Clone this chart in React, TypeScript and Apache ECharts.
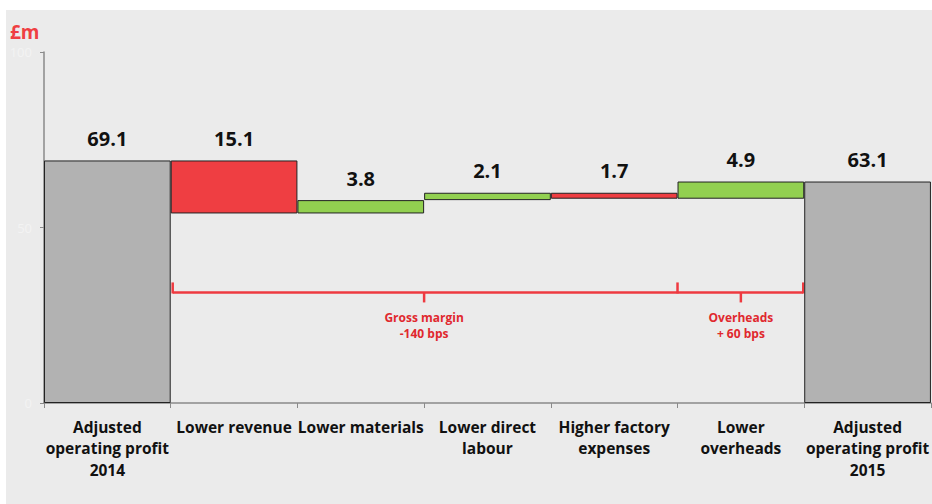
import React, { useEffect, useRef } from "react";
import * as echarts from "echarts";

const categories = [
  "Adjusted\noperating profit\n2014",
  "Lower revenue",
  "Lower materials",
  "Lower direct\nlabour",
  "Higher factory\nexpenses",
  "Lower\noverheads",
  "Adjusted\noperating profit\n2015",
];
const startValue = 69.1;
const deltas = [-15.1, 3.8, 2.1, -1.7, 4.9];
const endValue = 63.1;
// bracket boundaries (after category index), middle pointer (category position), texts
const brackets = [
  { from: 0, to: 4, mid: 2.5, lines: ["Gross margin", "-140 bps"] },
  { from: 4, to: 5, mid: 5, lines: ["Overheads", "+ 60 bps"] },
];

const GRAY = "#b2b2b2";
const RED = "#ef3e42";
const GREEN = "#92d050";
const BRACKET = "#ee3a40";
const FONT = "'Open Sans'";

export default function App() {
  const ref = useRef<HTMLDivElement>(null);
  useEffect(() => {
    if (!ref.current) return;
    const chart = echarts.init(ref.current, null, { renderer: "svg" });

    const base: number[] = [];
    const size: number[] = [];
    const colors: string[] = [];
    base.push(0);
    size.push(startValue);
    colors.push(GRAY);
    let run = startValue;
    deltas.forEach((d) => {
      const next = run + d;
      base.push(Math.min(run, next));
      size.push(Math.abs(d));
      colors.push(d < 0 ? RED : GREEN);
      run = next;
    });
    base.push(0);
    size.push(endValue);
    colors.push(GRAY);

    const title = {
      type: "text",
      left: 4,
      top: 12,
      style: { text: "£m", fill: RED, font: `bold 19px ${FONT}` },
    };

    const option: any = {
      animation: false,
      backgroundColor: "#ebebeb",
      grid: { left: 38, top: 42, width: 890, height: 351, containLabel: false },
      xAxis: {
        type: "category",
        data: categories,
        axisLine: { lineStyle: { color: "#8a8a8a", width: 1.5 } },
        axisTick: { show: true, length: 5, lineStyle: { color: "#8a8a8a" } },
        axisLabel: {
          interval: 0,
          hideOverlap: false,
          color: "#111",
          fontFamily: FONT,
          fontWeight: "bold",
          fontSize: 15.5,
          lineHeight: 21.5,
          margin: 13,
        },
      },
      yAxis: {
        type: "value",
        min: 0,
        max: 100,
        interval: 50,
        splitLine: { show: false },
        axisLine: { show: true, lineStyle: { color: "#8a8a8a", width: 1.5 } },
        axisTick: { show: true, length: 4, lineStyle: { color: "#8a8a8a" } },
        axisLabel: { color: "#f3f3f3", fontSize: 13, fontFamily: FONT, margin: 12 },
      },
      series: [
        {
          type: "bar",
          stack: "w",
          data: base,
          itemStyle: { color: "transparent", borderWidth: 0 },
          barCategoryGap: 0,
          silent: true,
        },
        {
          type: "bar",
          stack: "w",
          barCategoryGap: 0,
          data: size.map((v, i) => ({
            value: v,
            itemStyle: { color: colors[i], borderColor: "#222", borderWidth: 1 },
          })),
          label: {
            show: true,
            position: "top",
            distance: 12,
            color: "#111",
            fontFamily: FONT,
            fontWeight: "bold",
            fontSize: 20,
            formatter: (p: any) => Number(p.value).toFixed(1),
          },
        },
      ],
      graphic: [title],
    };
    chart.setOption(option);

    const xAt = (i: number) => chart.convertToPixel({ xAxisIndex: 0 }, i) as number;
    const pos = (p: number) => {
      const f = Math.floor(p);
      return f === p ? xAt(p) : (xAt(f) + xAt(f + 1)) / 2;
    };
    const level = chart.convertToPixel({ yAxisIndex: 0 }, 31.5) as number;
    const els: any[] = [];
    const ls = { stroke: BRACKET, lineWidth: 2.5 };
    const x0 = pos(brackets[0].from + 0.5) + 2;
    const xEnd = pos(brackets[brackets.length - 1].to + 0.5) - 1;
    els.push({ type: "line", shape: { x1: x0, y1: level, x2: xEnd, y2: level }, style: ls });
    const ups = [x0, ...brackets.map((b, k) => (k === brackets.length - 1 ? xEnd : pos(b.to + 0.5)))];
    ups.forEach((x) => {
      els.push({ type: "line", shape: { x1: x, y1: level + 1, x2: x, y2: level - 10 }, style: ls });
    });
    brackets.forEach((b) => {
      const xm = pos(b.mid);
      els.push({ type: "line", shape: { x1: xm, y1: level, x2: xm, y2: level + 10 }, style: ls });
      els.push({
        type: "text",
        x: xm,
        y: level + 17,
        style: {
          text: b.lines.join("\n"),
          fill: "#e0282e",
          font: `bold 12px ${FONT}`,
          align: "center",
          verticalAlign: "top",
          lineHeight: 16,
        },
      });
    });
    chart.setOption({ graphic: [title, ...els] });

    return () => chart.dispose();
  }, []);
  return (
    <div style={{ position: "fixed", left: 0, top: 0, width: 932, height: 504, background: "#fff" }}>
      <div ref={ref} style={{ position: "absolute", left: 6, top: 10, width: 926, height: 494 }} />
    </div>
  );
}
